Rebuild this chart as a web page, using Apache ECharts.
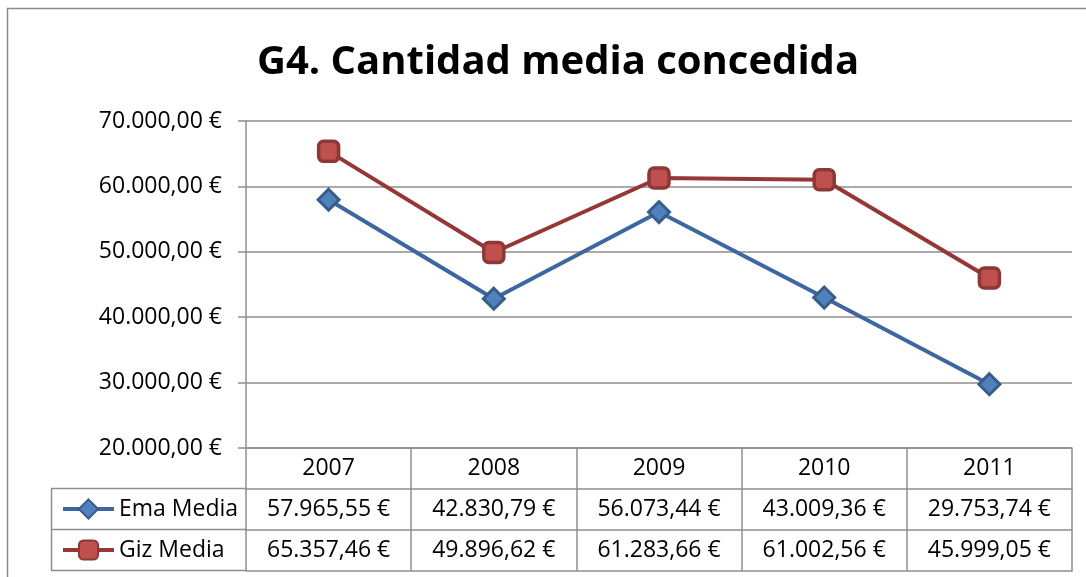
<!DOCTYPE html>
<html>
<head>
<meta charset="utf-8">
<script src="https://cdn.jsdelivr.net/npm/echarts@6/dist/echarts.min.js"></script>
<style>
  html, body { margin: 0; padding: 0; background: #fff; }
  #g4-chart { width: 1086px; height: 577px; }
</style>
</head>
<body>
<div id="g4-chart"></div>
<script>
var years = ['2007', '2008', '2009', '2010', '2011']
var emaMedia = [57965.55, 42830.79, 56073.44, 43009.36, 29753.74]
var gizMedia = [65357.46, 49896.62, 61283.66, 61002.56, 45999.05]
var yTicks = [20000, 30000, 40000, 50000, 60000, 70000]

var FONT = 'Open Sans'
var GRAY = '#8e8e8e'

// 57965.55 -> "57.965,55 €"
function euro(v) {
  var parts = v.toFixed(2).split('.')
  var ent = parts[0].replace(/\B(?=(\d{3})+(?!\d))/g, '.')
  return ent + ',' + parts[1] + ' €'
}

var labelText = { fontFamily: FONT, fontSize: 23, color: '#000' }

// filas de la tabla de datos debajo del grafico
function tableAxis(offset, rowData, showLabel) {
  return {
    type: 'category',
    position: 'bottom',
    offset: offset,
    data: years,
    boundaryGap: true,
    axisLine: { show: true, lineStyle: { color: GRAY, width: 1.5 } },
    axisTick: { show: false },
    axisLabel: {
      show: showLabel,
      interval: 0,
      margin: 20,
      verticalAlign: 'middle',
      ...labelText,
      formatter: function (value, index) {
        return rowData ? euro(rowData[index]) : value
      }
    }
  }
}

var chart = echarts.init(document.getElementById('g4-chart'))
chart.setOption({
  animation: false,
  title: {
    text: 'G4. Cantidad media concedida',
    left: 553,
    top: 38,
    textAlign: 'center',
    textStyle: { fontFamily: FONT, fontWeight: 'bold', fontSize: 40, color: '#000' }
  },
  legend: {
    orient: 'vertical',
    left: 56,
    top: 492,
    itemWidth: 51,
    itemHeight: 24,
    itemGap: 17,
    selectedMode: false,
    lineStyle: { width: 4 },
    textStyle: { ...labelText, lineHeight: 24 },
    data: ['Ema Media', 'Giz Media']
  },
  grid: { left: 246, top: 121, width: 826, height: 327 },
  xAxis: [
    {
      type: 'category',
      data: years,
      boundaryGap: true,
      axisLine: { show: true, lineStyle: { color: GRAY, width: 1.5 } },
      axisTick: { show: true, interval: 0, length: 123, lineStyle: { color: GRAY, width: 1.5 } },
      axisLabel: { interval: 0, margin: 20, verticalAlign: 'middle', ...labelText }
    },
    tableAxis(41, emaMedia, true),
    tableAxis(82, gizMedia, true),
    tableAxis(123, null, false)
  ],
  yAxis: {
    type: 'value',
    min: yTicks[0],
    max: yTicks[yTicks.length - 1],
    interval: 10000,
    axisLine: { show: true, lineStyle: { color: GRAY, width: 1.5 } },
    axisTick: { show: true, length: 8, lineStyle: { color: GRAY, width: 1.5 } },
    splitLine: { lineStyle: { color: GRAY, width: 1.5 } },
    axisLabel: {
      margin: 24,
      ...labelText,
      formatter: function (v) { return euro(v) }
    }
  },
  graphic: [
    // marco exterior
    { type: 'rect', shape: { x: 7.5, y: 8.5, width: 1200, height: 700 }, style: { fill: null, stroke: '#8a8a8a', lineWidth: 1.5 }, silent: true },
    // celdas de la leyenda
    { type: 'line', shape: { x1: 51, y1: 488.5, x2: 246, y2: 488.5 }, style: { stroke: GRAY, lineWidth: 1.5 } },
    { type: 'line', shape: { x1: 51, y1: 529.5, x2: 246, y2: 529.5 }, style: { stroke: GRAY, lineWidth: 1.5 } },
    { type: 'line', shape: { x1: 51, y1: 570.5, x2: 246, y2: 570.5 }, style: { stroke: GRAY, lineWidth: 1.5 } },
    { type: 'line', shape: { x1: 51.5, y1: 488.5, x2: 51.5, y2: 570.5 }, style: { stroke: GRAY, lineWidth: 1.5 } }
  ],
  series: [
    {
      name: 'Ema Media',
      type: 'line',
      data: emaMedia,
      symbol: 'diamond',
      symbolSize: 21,
      lineStyle: { color: '#3c67a0', width: 4 },
      itemStyle: { color: '#4f81bd', borderColor: '#385d8a', borderWidth: 3 },
      z: 3
    },
    {
      name: 'Giz Media',
      type: 'line',
      data: gizMedia,
      symbol: 'roundRect',
      symbolSize: 20,
      lineStyle: { color: '#953735', width: 4 },
      itemStyle: { color: '#c0504d', borderColor: '#8c3836', borderWidth: 3.5 },
      z: 3
    }
  ]
})
</script>
</body>
</html>
